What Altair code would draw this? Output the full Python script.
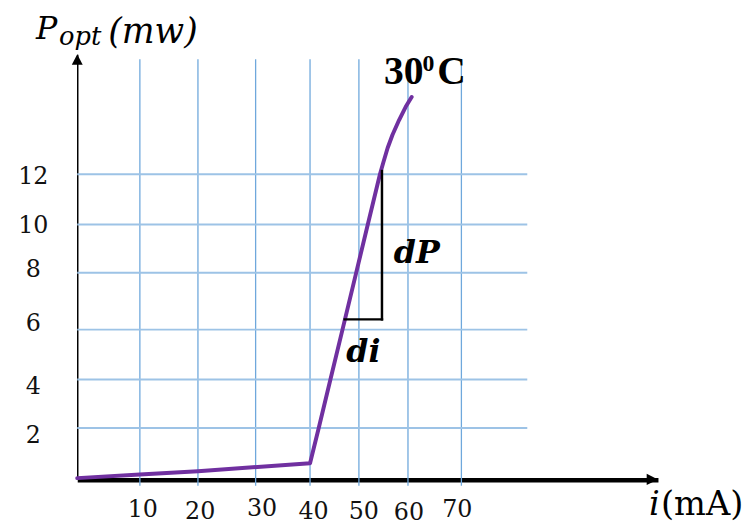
import altair as alt
import pandas as pd

# ---- values ----
curve_i = [0, 10, 20, 40, 41.78, 44.17, 46.64, 49.45, 51.81, 54.29, 54.96, 55.85, 56.85,
           58.19, 59.54, 60.69]
curve_p = [0.05, 0.19, 0.32, 0.63, 2, 4, 6, 8, 10, 12, 12.46, 13.05, 13.58, 14.17, 14.7,
           15.09]
x_ticks = [10, 20, 30, 40, 50, 60, 70]
y_ticks = [2, 4, 6, 8, 10, 12]
di_i = [47.1, 54.7]
di_p = 6.36
dp_p = [6.36, 12.13]
grid_top = 16.6
grid_bottom = -0.25
grid_right = 82.4

# hand-drawn (irregular) grid -> piecewise linear scales
x_domain = [0, 10, 20, 30, 40, 50, 60, 70, 107]
x_range = [0, 63.3, 122, 180.3, 235.3, 284.7, 334.3, 388.3, 587]
y_domain = [0, 2, 4, 6, 8, 10, 12, 16.8]
y_range = [429.7, 377.7, 328.7, 278.3, 220.7, 172, 121.3, 0]

W, H = 587, 430

curve = pd.DataFrame({"i": curve_i, "p": curve_p})
vgrid = pd.DataFrame({"x": x_ticks, "x2": x_ticks,
                      "y": [grid_bottom] * len(x_ticks), "y2": [grid_top] * len(x_ticks)})
hgrid = pd.DataFrame({"x": [0] * len(y_ticks), "x2": [grid_right] * len(y_ticks),
                      "y": y_ticks, "y2": y_ticks})
bracket = pd.DataFrame({"x": [di_i[0], di_i[1]], "x2": [di_i[1], di_i[1]],
                        "y": [di_p, dp_p[0]], "y2": [di_p, dp_p[1]]})

x_lab_off = {10: 2.5, 20: 1.7, 30: 6, 40: 3, 50: 4.5, 60: 0.5, 70: -4.6}
x_lab_pad = {10: 30.6, 20: 32.3, 30: 29.5, 40: 32.3, 50: 32.3, 60: 33.3, 70: 30.6}
y_lab_off = {12: 2.2, 10: 1.5, 8: -3.2, 6: -5.8, 4: 7.5, 2: 7.8}


def cond(d, default):
    return {"condition": [{"test": f"datum.value == {k}", "value": v} for k, v in d.items()],
            "value": default}


def build(conditional):
    common = dict(title=None, ticks=False, tickSize=0, grid=False, domainColor="black",
                  labelFont="DejaVu Serif", labelFontSize=24, labelColor="#111",
                  labelOverlap=False, labelFlush=False, labelBaseline="middle", zindex=0)
    if conditional:
        xa = alt.Axis(values=x_ticks, domainWidth=4.5, labelPadding=cond(x_lab_pad, 31),
                      labelOffset=cond(x_lab_off, 0), **common)
        ya = alt.Axis(values=y_ticks, domainWidth=1.5, labelPadding=45, labelAlign="center",
                      labelOffset=cond(y_lab_off, 0), **common)
    else:
        xa = alt.Axis(values=x_ticks, domainWidth=4.5, labelPadding=31, **common)
        ya = alt.Axis(values=y_ticks, domainWidth=1.5, labelPadding=45, labelAlign="center",
                      **common)
    xs = alt.Scale(domain=x_domain, range=x_range, zero=False, nice=False)
    ys = alt.Scale(domain=y_domain, range=y_range, zero=False, nice=False)

    def X(f):
        return alt.X(f, type="quantitative", scale=xs, axis=xa)

    def Y(f):
        return alt.Y(f, type="quantitative", scale=ys, axis=ya)

    vg = alt.Chart(vgrid).mark_rule(color="#6FA8DC", strokeWidth=1.3).encode(
        x=X("x"), x2="x2", y=Y("y"), y2="y2")
    hg = alt.Chart(hgrid).mark_rule(color="#9DC3E6", strokeWidth=2).encode(
        x=X("x"), x2="x2", y=Y("y"), y2="y2")
    line = alt.Chart(curve).mark_line(color="#7030A0", strokeWidth=4, strokeCap="round",
                                      strokeJoin="round").encode(x=X("i"), y=Y("p"))
    br = alt.Chart(bracket).mark_rule(color="black", strokeWidth=2.5, strokeCap="square").encode(
        x=X("x"), x2="x2", y=Y("y"), y2="y2")

    one = alt.Data(values=[{}])

    def txt(s, x, y, size, font="DejaVu Serif", style="normal", weight="normal", align="left"):
        return alt.Chart(one).mark_text(text=s, font=font, fontSize=size, fontStyle=style,
                                        fontWeight=weight, align=align, baseline="alphabetic",
                                        color="black").encode(x=alt.value(x), y=alt.value(y))

    texts = [
        txt("P", -31, -15, 32, style="italic", align="center"),
        txt("opt", 3, -9, 26, style="italic", align="center"),
        txt("(mw)", 76.5, -11, 35, style="italic", align="center"),
        txt("30", 310, 30, 40, font="Liberation Serif", weight="bold"),
        txt("0", 349, 17, 24, font="Liberation Serif", weight="bold"),
        txt("C", 364, 30, 40, font="Liberation Serif", weight="bold"),
        txt("dP", 320, 211, 32, style="italic", weight="bold"),
        txt("di", 272, 311, 32, style="italic", weight="bold"),
        txt("i", 578, 466, 34, style="italic"),
        txt("(mA)", 590, 466, 34),
    ]
    up = alt.Chart(one).mark_point(shape="M0,0L-1,1.9L1,1.9Z", size=121, filled=True,
                                   color="black", opacity=1, strokeWidth=0).encode(
        x=alt.value(0), y=alt.value(0))
    right = alt.Chart(one).mark_point(shape="M0,0L-2,-1L-2,1Z", size=130, filled=True,
                                      color="black", opacity=1, strokeWidth=0).encode(
        x=alt.value(W), y=alt.value(y_range[0]))

    ch = alt.layer(vg, hg, line, br, *texts, up, right).properties(
        width=W, height=H,
        autosize=alt.AutoSizeParams(type="none"),
        padding={"left": 70, "top": 44, "right": 91, "bottom": 44},
        background="white",
    ).configure_view(stroke=None)
    ch.to_dict()
    return ch


try:
    chart = build(True)
except Exception:
    chart = build(False)

chart.save("out.html", embed_options={"renderer": "svg", "actions": False})
